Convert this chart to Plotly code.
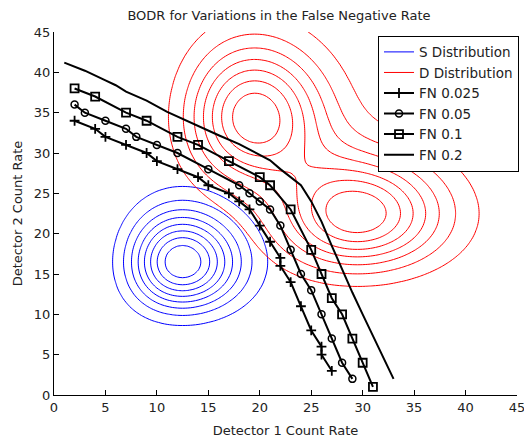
import math
import numpy as np
import plotly.graph_objects as go

# ---- data ----
fn025_x = [2, 4, 5, 7, 9, 10, 12, 14, 15, 17, 18, 19, 20, 21, 22, 22, 23, 24, 25, 26, 26, 27]
fn025_y = [34, 33, 32, 31, 30, 29, 28, 27, 26, 25, 24, 23, 21, 19, 17, 16, 14, 11, 8, 6, 5, 3]

fn05_x = [2, 3, 5, 7, 8, 10, 12, 15, 18, 19, 20, 21, 22, 23, 24, 25, 26, 27, 28, 29]
fn05_y = [36, 35, 34, 33, 32, 31, 30, 28, 26, 25, 24, 23, 21, 18, 15, 13, 10, 7, 4, 2]

fn1_x = [2, 4, 7, 9, 12, 14, 17, 20, 21, 23, 25, 26, 27, 28, 29, 30, 31]
fn1_y = [38, 37, 35, 34, 32, 31, 29, 27, 26, 23, 18, 15, 12, 10, 7, 4, 1]

fn2_x = [1, 3, 5, 6, 7, 9, 11, 12, 14, 16, 18, 20, 21, 22, 23, 24, 25, 26, 27, 28, 29, 30, 31, 32, 33]
fn2_y = [41.2, 40.2, 39.0, 38.4, 37.6, 36.5, 35.1, 34.5, 33.3, 32.2, 31.1, 29.8, 29.1, 28.0, 27.0, 26.0, 24.0, 21.5, 18.5, 15.5, 12.7, 10.0, 7.3, 4.6, 2.0]

# distribution parameters (Poisson means per detector)
s_means = (13, 17)
d_means_a = (20, 35)
d_means_b = (30, 23)
d_weights = (0.5, 0.5)
s_levels = 8
d_levels = 7

x_ticks = [0, 5, 10, 15, 20, 25, 30, 35, 40, 45]
y_ticks = [0, 5, 10, 15, 20, 25, 30, 35, 40, 45]

# ---- density grids ----
g = np.arange(0, 45.01, 0.5)
lg = np.vectorize(math.lgamma)


def pois(v, lam):
    return np.exp(v * math.log(lam) - lam - lg(v + 1))


X, Y = np.meshgrid(g, g)
S = pois(X, s_means[0]) * pois(Y, s_means[1])
D = d_weights[0] * pois(X, d_means_a[0]) * pois(Y, d_means_a[1]) + \
    d_weights[1] * pois(X, d_means_b[0]) * pois(Y, d_means_b[1])

fig = go.Figure()


def add_contour(Z, color, name, n):
    m = Z.max()
    step = m / (n + 1)
    fig.add_trace(go.Contour(
        x=g, y=g, z=Z, name=name, showlegend=True, showscale=False,
        autocontour=False,
        contours=dict(start=step, end=step * n + 1e-12, size=step, coloring="lines"),
        colorscale=[[0, color], [1, color]],
        line=dict(width=1, smoothing=0.8),
        hoverinfo="skip",
    ))


add_contour(S, "#0000ff", "S Distribution", s_levels)
add_contour(D, "#ff0000", "D Distribution", d_levels)

lw = 2
fig.add_trace(go.Scatter(x=fn025_x, y=fn025_y, mode="lines+markers", name="FN 0.025",
                         line=dict(color="black", width=lw),
                         marker=dict(symbol="cross-thin", size=7, color="black",
                                     line=dict(color="black", width=1.8))))
fig.add_trace(go.Scatter(x=fn05_x, y=fn05_y, mode="lines+markers", name="FN 0.05",
                         line=dict(color="black", width=lw),
                         marker=dict(symbol="circle-open", size=7, color="black",
                                     line=dict(color="black", width=1.5))))
fig.add_trace(go.Scatter(x=fn1_x, y=fn1_y, mode="lines+markers", name="FN 0.1",
                         line=dict(color="black", width=lw),
                         marker=dict(symbol="square-open", size=8, color="black",
                                     line=dict(color="black", width=1.8))))
fig.add_trace(go.Scatter(x=fn2_x, y=fn2_y, mode="lines", name="FN 0.2",
                         line=dict(color="black", width=lw)))

font = "DejaVu Sans, Arial, sans-serif"
txt = "#222"
axis_common = dict(range=[0, 45.0001], showgrid=False, zeroline=False, showline=True,
                   linecolor="black", linewidth=1, ticks="inside", ticklen=5,
                   tickcolor="black", mirror=False, ticklabeloverflow="allow",
                   automargin=False,
                   tickfont=dict(family=font, size=13, color=txt))

fig.update_layout(
    width=524, height=438,
    margin=dict(l=54, r=7, t=32, b=43, autoexpand=False),
    paper_bgcolor="white", plot_bgcolor="white",
    title=dict(text="BODR for Variations in the False Negative Rate",
               x=279 / 524, xanchor="center", y=1 - 15 / 438, yanchor="middle",
               font=dict(family=font, size=13, color=txt)),
    xaxis=dict(title=dict(text="Detector 1 Count Rate", standoff=13,
                          font=dict(family=font, size=13, color=txt)),
               tickvals=x_ticks, **axis_common),
    yaxis=dict(title=dict(text="Detector 2 Count Rate", standoff=8,
                          font=dict(family=font, size=13, color=txt)),
               tickvals=y_ticks, **axis_common),
    legend=dict(x=(519 - 54) / 463, y=0.99, xanchor="right", yanchor="top",
                bgcolor="white", bordercolor="black", borderwidth=1,
                font=dict(family=font, size=13.5, color=txt),
                tracegroupgap=0, itemwidth=30),
    showlegend=True,
)

fig.write_html("out.html")
